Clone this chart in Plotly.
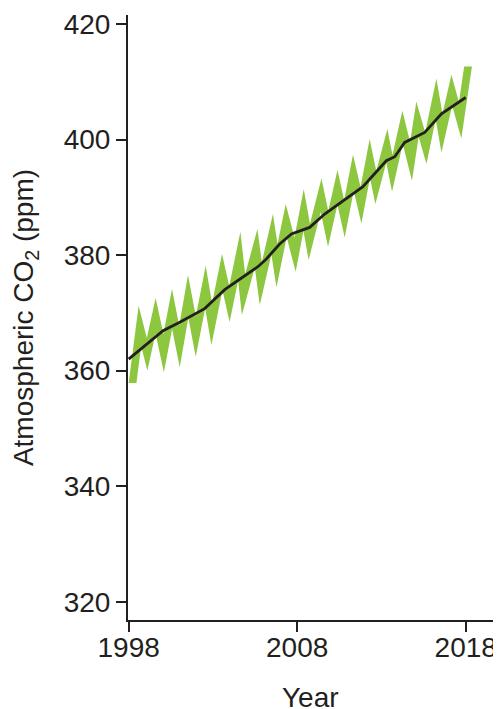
import numpy as np
import plotly.graph_objects as go

# ---- data (years, ppm) ----
# seasonal maxima (top tips of the green band)
peak_years = [1998.59, 1999.60, 2000.57, 2001.52, 2002.57, 2003.54, 2004.63, 2005.64,
              2006.56, 2007.32, 2008.39, 2009.44, 2010.39, 2011.31, 2012.30, 2013.35,
              2014.24, 2015.07, 2016.26, 2017.15]
peak_ppm = [371.25, 372.58, 374.13, 376.56, 378.17, 380.19, 384.05, 384.52,
            387.11, 388.84, 391.44, 393.27, 394.72, 397.37, 400.09, 401.82,
            404.98, 406.59, 410.57, 411.21]
# seasonal minima (bottom tips of the green band)
trough_years = [1999.11, 2000.09, 2001.03, 2001.98, 2002.91, 2003.99, 2004.72, 2005.78,
                2006.77, 2007.91, 2008.68, 2009.83, 2010.82, 2011.81, 2012.64, 2013.63,
                2014.81, 2015.67, 2016.56, 2017.74]
trough_ppm = [360.00, 359.71, 360.57, 362.42, 364.45, 368.40, 369.64, 371.37,
              374.41, 377.13, 379.15, 381.45, 383.06, 385.48, 388.84, 390.97,
              392.87, 395.76, 397.77, 400.19]
start_point = (1998.23, 357.87)
end_point = (2018.14, 412.65)
band_half_width = 0.23  # years (horizontal half thickness of the band stroke)

# annual trend (black line)
trend_years = [1998.0, 1999.05, 2000.04, 2001.03, 2002.51, 2003.70, 2004.69, 2005.67,
               2006.17, 2006.96, 2007.66, 2008.45, 2008.74, 2009.63, 2011.90, 2013.29,
               2013.79, 2014.38, 2015.57, 2016.56, 2018.0]
trend_ppm = [361.99, 364.50, 366.92, 368.36, 370.73, 374.01, 376.04, 377.99,
             379.33, 381.92, 383.65, 384.39, 384.79, 387.11, 391.83, 396.33,
             397.02, 399.50, 401.23, 404.46, 407.28]

x_ticks = [1998, 2008, 2018]
y_ticks = [320, 340, 360, 380, 400, 420]

# ---- build the band outline (thick zig-zag stroke with mitred tips) ----
tx = [start_point[0]]
ty = [start_point[1]]
kind = [0]
for px_, py_, qx_, qy_ in zip(peak_years, peak_ppm, trough_years, trough_ppm):
    tx += [px_, qx_]
    ty += [py_, qy_]
    kind += [1, -1]
tx.append(end_point[0]); ty.append(end_point[1]); kind.append(0)
tx = np.array(tx); ty = np.array(ty); kind = np.array(kind, dtype=float)
d = band_half_width

vx = tx.copy()
vy = ty - kind * 3.0


def offsets(vx, vy):
    m = np.diff(vy) / np.maximum(np.diff(vx), 1e-3)
    ox = np.zeros_like(vx)
    oy = np.zeros_like(vx)
    for k in range(1, len(vx) - 1):
        m_in, m_out = m[k - 1], m[k]
        if kind[k] > 0:
            s1, s2 = m_in, m_out
        else:
            s1, s2 = m_out, m_in
        s1 = max(s1, 1e-3)
        s2 = min(s2, -1e-3)
        ox[k] = -(s1 + s2) * d / (s1 - s2)
        oy[k] = s1 * (ox[k] + d)
    return ox, oy


for _ in range(600):
    dxs, dys = offsets(vx, vy)
    tgx = tx - kind * dxs
    tgy = ty - kind * dys
    vx += 0.25 * (tgx - vx)
    vy += 0.25 * (tgy - vy)
dxs, dys = offsets(vx, vy)

ux = vx + dxs
uy = vy + dys
lx = vx - dxs
ly = vy - dys
# flat ends (first and last segments rise)
ux[0], lx[0] = vx[0] - d, vx[0] + d
uy[0] = ly[0] = vy[0]
ux[-1], lx[-1] = vx[-1] - d, vx[-1] + d
uy[-1] = ly[-1] = vy[-1]

poly_x = list(ux) + list(lx[::-1])
poly_y = list(uy) + list(ly[::-1])

GREEN = "#8dc63f"
INK = "#231f20"
FONT = "Liberation Sans, Arial, Helvetica, sans-serif"

fig = go.Figure()
fig.add_trace(go.Scatter(x=poly_x, y=poly_y, mode="lines", fill="toself",
                         fillcolor=GREEN, line=dict(width=0, color=GREEN),
                         hoverinfo="skip", showlegend=False))
fig.add_trace(go.Scatter(x=trend_years, y=trend_ppm, mode="lines",
                         line=dict(color=INK, width=2.8),
                         showlegend=False))

axis_common = dict(showline=True, linecolor=INK, linewidth=2, ticks="outside",
                   ticklen=10, tickwidth=2, tickcolor=INK, showgrid=False,
                   zeroline=False, tickfont=dict(family=FONT, size=28, color=INK),
                   fixedrange=True, automargin=False)

# the page body keeps its default 8px margin, so the figure is 8px smaller
fig.update_layout(
    width=493, height=701,
    margin=dict(l=120, r=8, t=7, b=89),
    paper_bgcolor="white", plot_bgcolor="white",
    font=dict(family=FONT, size=28, color=INK),
    xaxis=dict(range=[1997.96, 2019.62], tickvals=x_ticks,
               ticktext=[str(v) for v in x_ticks],
               ticklabelstandoff=-9,
               **axis_common),
    yaxis=dict(range=[316.83, 421.56], tickvals=y_ticks,
               ticktext=[str(v) for v in y_ticks],
               title=dict(text="Atmospheric CO<sub>2</sub> (ppm)",
                          font=dict(family=FONT, size=28, color=INK),
                          standoff=25),
               **axis_common),
    annotations=[dict(text="Year", xref="paper", yref="paper", x=0.5, y=-0.128,
                      xanchor="center", yanchor="middle", showarrow=False,
                      font=dict(family=FONT, size=28, color=INK))],
)

fig.write_html("out.html", config={"displayModeBar": False})
